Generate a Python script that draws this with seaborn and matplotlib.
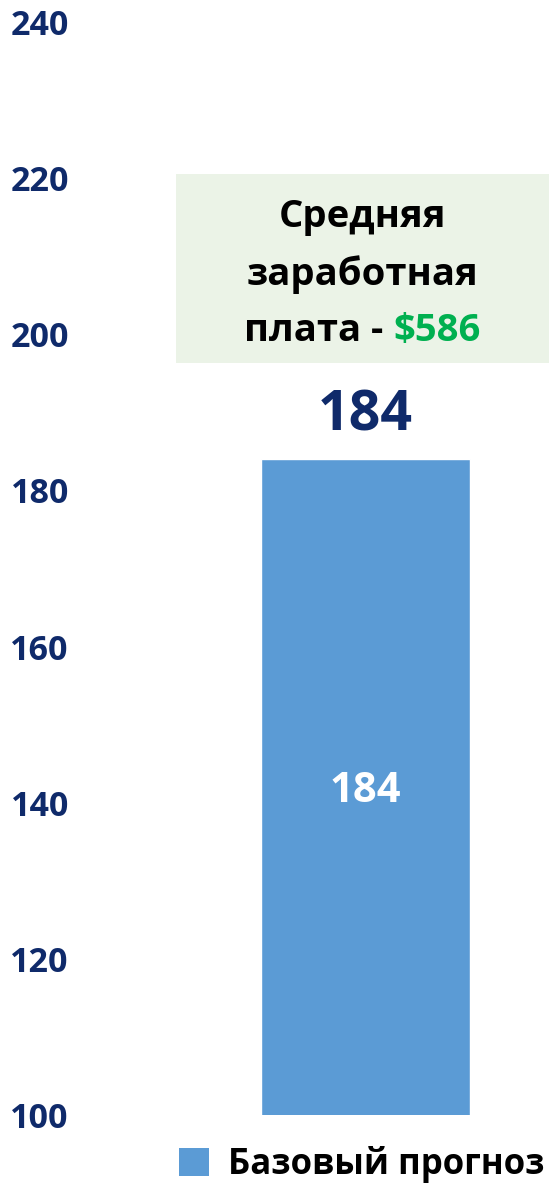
import seaborn as sns
import pandas as pd
import matplotlib.pyplot as plt
from matplotlib.patches import Rectangle, Patch

sns.set_style('white')
plt.rcParams['font.family'] = ['Open Sans', 'DejaVu Sans']

# data
scenarios = ['Базовый прогноз']
values = [184]
yticks = [100, 120, 140, 160, 180, 200, 220, 240]
note_lines = ['Средняя', 'заработная', 'плата - ']
note_amount = '$586'

navy = '#0F2A6A'
blue = '#5B9BD5'
green = '#00B050'
W = 'bold'

df = pd.DataFrame({'scenario': scenarios, 'value': values})

fig = plt.figure(figsize=(5.5, 11.85), dpi=100)
ax = fig.add_axes([0.1455, 0.0591, 0.8545, 0.9223])
sns.barplot(data=df, x='scenario', y='value', color=blue, width=0.89,
            saturation=1, ax=ax)

ax.set_ylim(100, 240)
ax.set_xlim(-1.215, 0.785)
ax.set_yticks(yticks)
ax.set_yticklabels([str(t) for t in yticks], fontsize=24.5, fontweight=W, color=navy)
ax.tick_params(axis='y', length=0, pad=8)
ax.set_xticks([])
ax.set_xlabel('')
ax.set_ylabel('')
sns.despine(ax=ax, left=True, bottom=True)

# value labels
for i, v in enumerate(values):
    ax.text(i, (100 + v) / 2 - 0.6, str(v), ha='center', va='center',
            fontsize=30, fontweight=W, color='white')
    ax.text(i, v + 5.5, str(v), ha='center', va='center',
            fontsize=40, fontweight=W, color=navy)

# note box
ax.add_patch(Rectangle((-0.807, 196.3), 1.588, 24.2, facecolor='#EBF3E7',
                       edgecolor='none', zorder=1))
cx = -0.013
fs = 27.5
ax.text(cx, 215.0, note_lines[0], ha='center', va='center', fontsize=fs,
        fontweight=W, color='black')
ax.text(cx, 207.6, note_lines[1], ha='center', va='center', fontsize=fs,
        fontweight=W, color='black')
t1 = ax.text(cx, 200.4, note_lines[2], ha='left', va='center', fontsize=fs,
             fontweight=W, color='black')
t2 = ax.text(cx, 200.4, note_amount, ha='left', va='center', fontsize=fs,
             fontweight=W, color=green)

# centre the mixed-colour third line
r = fig.canvas.get_renderer()
inv = ax.transData.inverted()
b1 = t1.get_window_extent(r)
b2 = t2.get_window_extent(r)
w1 = inv.transform((b1.x1, 0))[0] - inv.transform((b1.x0, 0))[0]
w2 = inv.transform((b2.x1, 0))[0] - inv.transform((b2.x0, 0))[0]
x0 = cx - (w1 + w2) / 2
t1.set_x(x0)
t2.set_x(x0 + w1)

# legend
handles = [Patch(facecolor=blue, edgecolor='none', label=s) for s in scenarios]
fig.legend(handles=handles, loc='center', bbox_to_anchor=(0.658, 0.0175),
           frameon=False, prop={'size': 25, 'weight': W}, labelcolor='black',
           handlelength=0.85, handleheight=0.85, handletextpad=0.55)

fig.savefig('out.png', dpi=100, facecolor='white')
